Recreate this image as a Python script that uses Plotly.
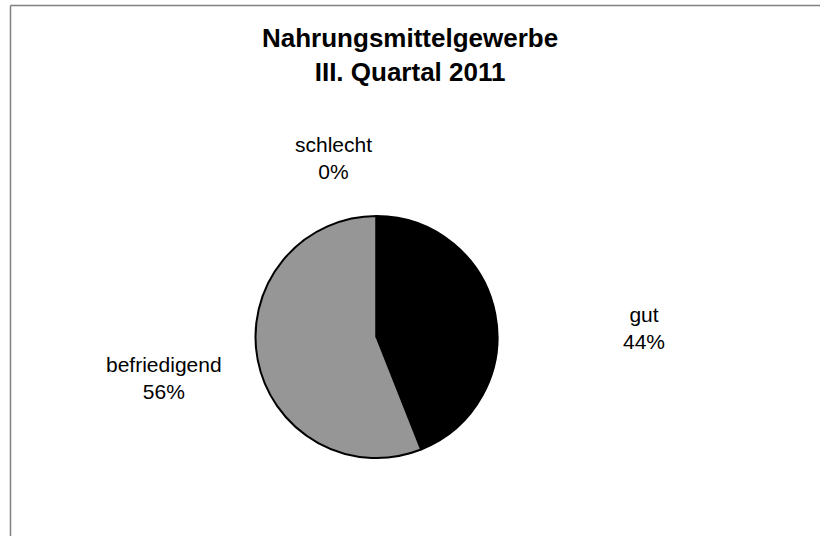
import plotly.graph_objects as go

# Data
categories = ["gut", "befriedigend", "schlecht"]
values = [44, 56, 0]
colors = ["#000000", "#969696", "#ffffff"]

title_lines = ["Nahrungsmittelgewerbe", "III. Quartal 2011"]

W, H = 820, 536

# label anchor positions (pixels, from top-left) – layout only
label_pos = {
    "gut": (644, 327.5),
    "befriedigend": (164, 378),
    "schlecht": (333, 158.5),
}
title_pos = (410, 55)

cx, cy, r = 376.5, 337, 121

FONT = "Liberation Sans, Arial, sans-serif"

fig = go.Figure()
fig.add_trace(go.Pie(
    labels=categories,
    values=values,
    sort=False,
    direction="clockwise",
    rotation=0,
    marker=dict(colors=colors, line=dict(color="#000000", width=2)),
    textinfo="none",
    hoverinfo="label+percent",
    showlegend=False,
    domain=dict(x=[(cx - r) / W, (cx + r) / W],
                y=[(H - cy - r) / H, (H - cy + r) / H]),
))

total = sum(values)
annotations = []
for cat, val in zip(categories, values):
    px, py = label_pos[cat]
    pct = round(100 * val / total)
    annotations.append(dict(
        x=px / W, y=1 - py / H, xref="paper", yref="paper",
        text=f"{cat}<br>{pct}%", showarrow=False,
        xanchor="center", yanchor="middle", align="center",
        font=dict(family=FONT, size=21, color="#000000"),
    ))

annotations.append(dict(
    x=title_pos[0] / W, y=1 - title_pos[1] / H, xref="paper", yref="paper",
    text="<b>" + "<br>".join(title_lines) + "</b>", showarrow=False,
    xanchor="center", yanchor="middle", align="center",
    font=dict(family=FONT, size=26, color="#000000"),
))

border = dict(color="#808080", width=1.5)
fig.update_layout(
    width=W, height=H,
    margin=dict(l=0, r=0, t=0, b=0),
    paper_bgcolor="#ffffff",
    plot_bgcolor="#ffffff",
    annotations=annotations,
    shapes=[
        dict(type="line", xref="paper", yref="paper",
             x0=10.5 / W, x1=1.0, y0=1 - 5.5 / H, y1=1 - 5.5 / H, line=border),
        dict(type="line", xref="paper", yref="paper",
             x0=10.5 / W, x1=10.5 / W, y0=0.0, y1=1 - 5.5 / H, line=border),
    ],
)

fig.write_html(
    "out.html",
    config={"displayModeBar": False},
    post_script=(
        "document.documentElement.style.overflow='hidden';"
        "document.documentElement.style.margin='0';"
        "document.body.style.margin='0';"
        "document.body.style.overflow='hidden';"
    ),
)
